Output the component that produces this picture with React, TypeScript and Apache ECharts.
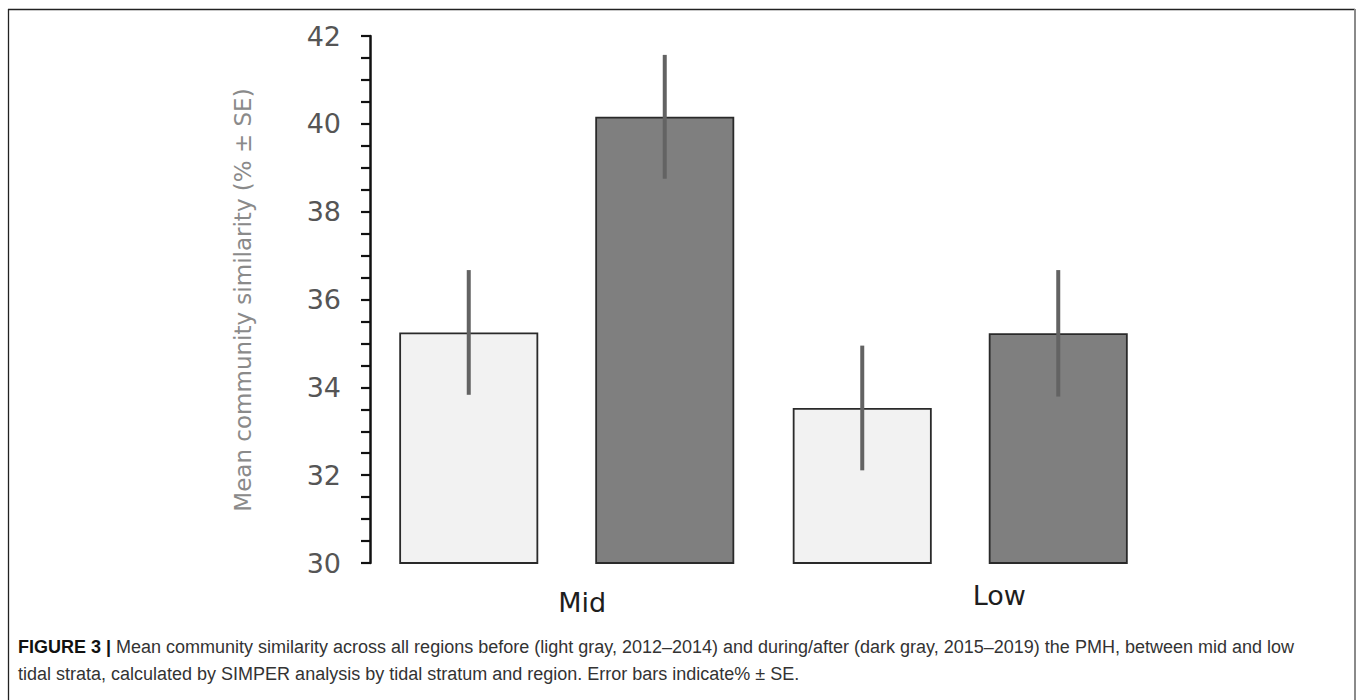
import React, { useEffect, useRef } from "react";
import * as echarts from "echarts";

const categories = ["Mid", "Low"];
const beforeValues = [35.25, 33.53];
const afterValues = [40.16, 35.23];
const beforeSE = [1.42, 1.42];
const afterSE = [1.41, 1.44];
const yTicks = { min: 30, max: 42, step: 0.5, labelStep: 2 };

const yTitle = "Mean community similarity (% \u00b1 SE)";
const captionLine1 =
  "Mean community similarity across all regions before (light gray, 2012\u20132014) and during/after (dark gray, 2015\u20132019) the PMH, between mid and low";
const captionLine2 =
  "tidal strata, calculated by SIMPER analysis by tidal stratum and region. Error bars indicate% \u00b1 SE.";

const BAR_W = 139;
const BAR_GAP = 57;

export default function App() {
  const ref = useRef<HTMLDivElement>(null);

  useEffect(() => {
    if (!ref.current) return;
    const chart = echarts.init(ref.current, undefined, { renderer: "svg" });

    const errData = (vals: number[], se: number[], side: number) =>
      vals.map((v, i) => [i, v, se[i], side]);

    const renderErr = (params: any, api: any) => {
      const ci = api.value(0);
      const v = api.value(1);
      const se = api.value(2);
      const side = api.value(3);
      const off = (side * (BAR_W + BAR_GAP)) / 2;
      const p1 = api.coord([ci, v + se]);
      const p2 = api.coord([ci, v - se]);
      return {
        type: "line",
        shape: { x1: p1[0] + off, y1: p1[1], x2: p2[0] + off, y2: p2[1] },
        style: { stroke: "#636363", lineWidth: 4 },
        z2: 10,
      };
    };

    const option: any = {
      animation: false,
      backgroundColor: "#ffffff",
      grid: { left: 370, right: 203, top: 36, bottom: 137, containLabel: false },
      xAxis: {
        type: "category",
        data: [
          {
            value: categories[0],
            textStyle: { padding: [7, 0, 0, 31] },
          },
          {
            value: categories[1],
            textStyle: { padding: [0, 0, 0, 78] },
          },
        ],
        axisLine: { show: false },
        axisTick: { show: false },
        axisLabel: {
          margin: 17,
          fontFamily: "DejaVu Sans",
          fontSize: 27,
          color: "#1e1e1e",
          lineHeight: 30,
        },
      },
      yAxis: {
        type: "value",
        min: yTicks.min,
        max: yTicks.max,
        interval: yTicks.step,
        axisLine: { show: true, lineStyle: { color: "#111", width: 2.5 } },
        axisTick: {
          show: true,
          inside: false,
          length: 9,
          lineStyle: { color: "#111", width: 2.2 },
        },
        splitLine: { show: false },
        axisLabel: {
          margin: 29,
          fontFamily: "DejaVu Sans",
          fontSize: 27,
          color: "#555",
          formatter: (v: number) =>
            Math.abs(v % yTicks.labelStep) < 1e-9 ? String(v) : "",
        },
      },
      series: [
        {
          type: "bar",
          name: "Before (2012\u20132014)",
          data: beforeValues,
          barWidth: BAR_W,
          barGap: (BAR_GAP / BAR_W) * 100 + "%",
          itemStyle: { color: "#f2f2f2", borderColor: "#2a2a2a", borderWidth: 1.8 },
        },
        {
          type: "bar",
          name: "During/after (2015\u20132019)",
          data: afterValues,
          barWidth: BAR_W,
          barGap: (BAR_GAP / BAR_W) * 100 + "%",
          itemStyle: { color: "#7f7f7f", borderColor: "#2a2a2a", borderWidth: 1.8 },
        },
        {
          type: "custom",
          renderItem: renderErr,
          data: errData(beforeValues, beforeSE, -1),
          encode: { x: 0, y: 1 },
          z: 5,
        },
        {
          type: "custom",
          renderItem: renderErr,
          data: errData(afterValues, afterSE, 1),
          encode: { x: 0, y: 1 },
          z: 5,
        },
      ],
      graphic: [
        {
          type: "line",
          shape: { x1: 8, y1: 9.5, x2: 1355, y2: 9.5 },
          style: { stroke: "#222", lineWidth: 1.3 },
        },
        {
          type: "line",
          shape: { x1: 8.5, y1: 9, x2: 8.5, y2: 700 },
          style: { stroke: "#222", lineWidth: 1.3 },
        },
        {
          type: "line",
          shape: { x1: 1355, y1: 9, x2: 1355, y2: 700 },
          style: { stroke: "#8a8a8a", lineWidth: 2 },
        },
        {
          type: "text",
          x: 243,
          y: 300,
          rotation: Math.PI / 2,
          style: {
            text: yTitle,
            fontFamily: "DejaVu Sans",
            fontSize: 23,
            fill: "#8a8a8a",
            textAlign: "center",
            textVerticalAlign: "middle",
          },
        },
        {
          type: "text",
          x: 18,
          y: 647,
          style: {
            text: "{b|FIGURE 3 |} " + captionLine1,
            rich: {
              b: {
                fontFamily: "Liberation Sans",
                fontWeight: "bold",
                fontSize: 18,
                fill: "#111",
              },
            },
            fontFamily: "Liberation Sans",
            fontSize: 18,
            fill: "#333",
            textVerticalAlign: "middle",
          },
        },
        {
          type: "text",
          x: 18,
          y: 674,
          style: {
            text: captionLine2,
            fontFamily: "Liberation Sans",
            fontSize: 18,
            fill: "#333",
            textVerticalAlign: "middle",
          },
        },
      ],
    };

    chart.setOption(option);
    return () => chart.dispose();
  }, []);

  return (
    <div
      ref={ref}
      style={{ position: "fixed", left: 0, top: 0, width: 1360, height: 700 }}
    />
  );
}
